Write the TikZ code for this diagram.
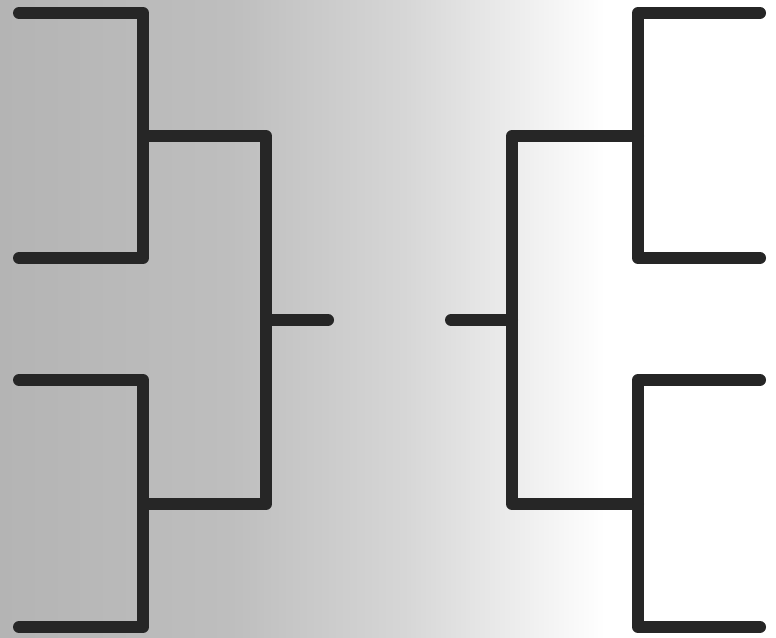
\documentclass[tikz,border=0pt]{standalone}
\usepackage{xcolor}
\usepackage{tikz}
\usetikzlibrary{calc}

\definecolor{bracketink}{RGB}{38,38,38}
\definecolor{bgleft}{RGB}{180,180,180}
\definecolor{bgmid}{RGB}{214,214,214}
\pgfdeclarehorizontalshading{bgfade}{100bp}{color(0bp)=(bgleft); color(25bp)=(bgleft); color(40bp)=(bgleft!70!bgmid); color(51bp)=(bgmid); color(64bp)=(white); color(100bp)=(white)}

\begin{document}
\begin{tikzpicture}[
  x=1pt,
  y=-1pt,
  bracketline/.style={
    draw=bracketink,
    line width=12pt,
    line cap=round,
    line join=round
  }
]

% background
\shade[shading=bgfade] (0,0) rectangle (776,637);
\useasboundingbox (0,0) rectangle (776,637);

% left half
\coordinate (seedLa) at (19,13);
\coordinate (seedLb) at (19,258);
\coordinate (seedLc) at (19,380);
\coordinate (seedLd) at (19,627);
\coordinate (semiLa) at (143,136);
\coordinate (semiLb) at (143,504);
\coordinate (finalL) at (266,320);
\coordinate (stubL) at (328,320);

\draw[bracketline] (seedLa) -| (semiLa) |- (seedLb);
\draw[bracketline] (seedLc) -| (semiLb) |- (seedLd);
\draw[bracketline] (semiLa) -| (finalL) |- (semiLb);
\draw[bracketline] (finalL) -- (stubL);

% right half
\coordinate (seedRa) at (760,13);
\coordinate (seedRb) at (760,258);
\coordinate (seedRc) at (760,380);
\coordinate (seedRd) at (760,627);
\coordinate (semiRa) at (638,136);
\coordinate (semiRb) at (638,504);
\coordinate (finalR) at (512,320);
\coordinate (stubR) at (451,320);

\draw[bracketline] (seedRa) -| (semiRa) |- (seedRb);
\draw[bracketline] (seedRc) -| (semiRb) |- (seedRd);
\draw[bracketline] (semiRa) -| (finalR) |- (semiRb);
\draw[bracketline] (finalR) -- (stubR);

\end{tikzpicture}
\end{document}
